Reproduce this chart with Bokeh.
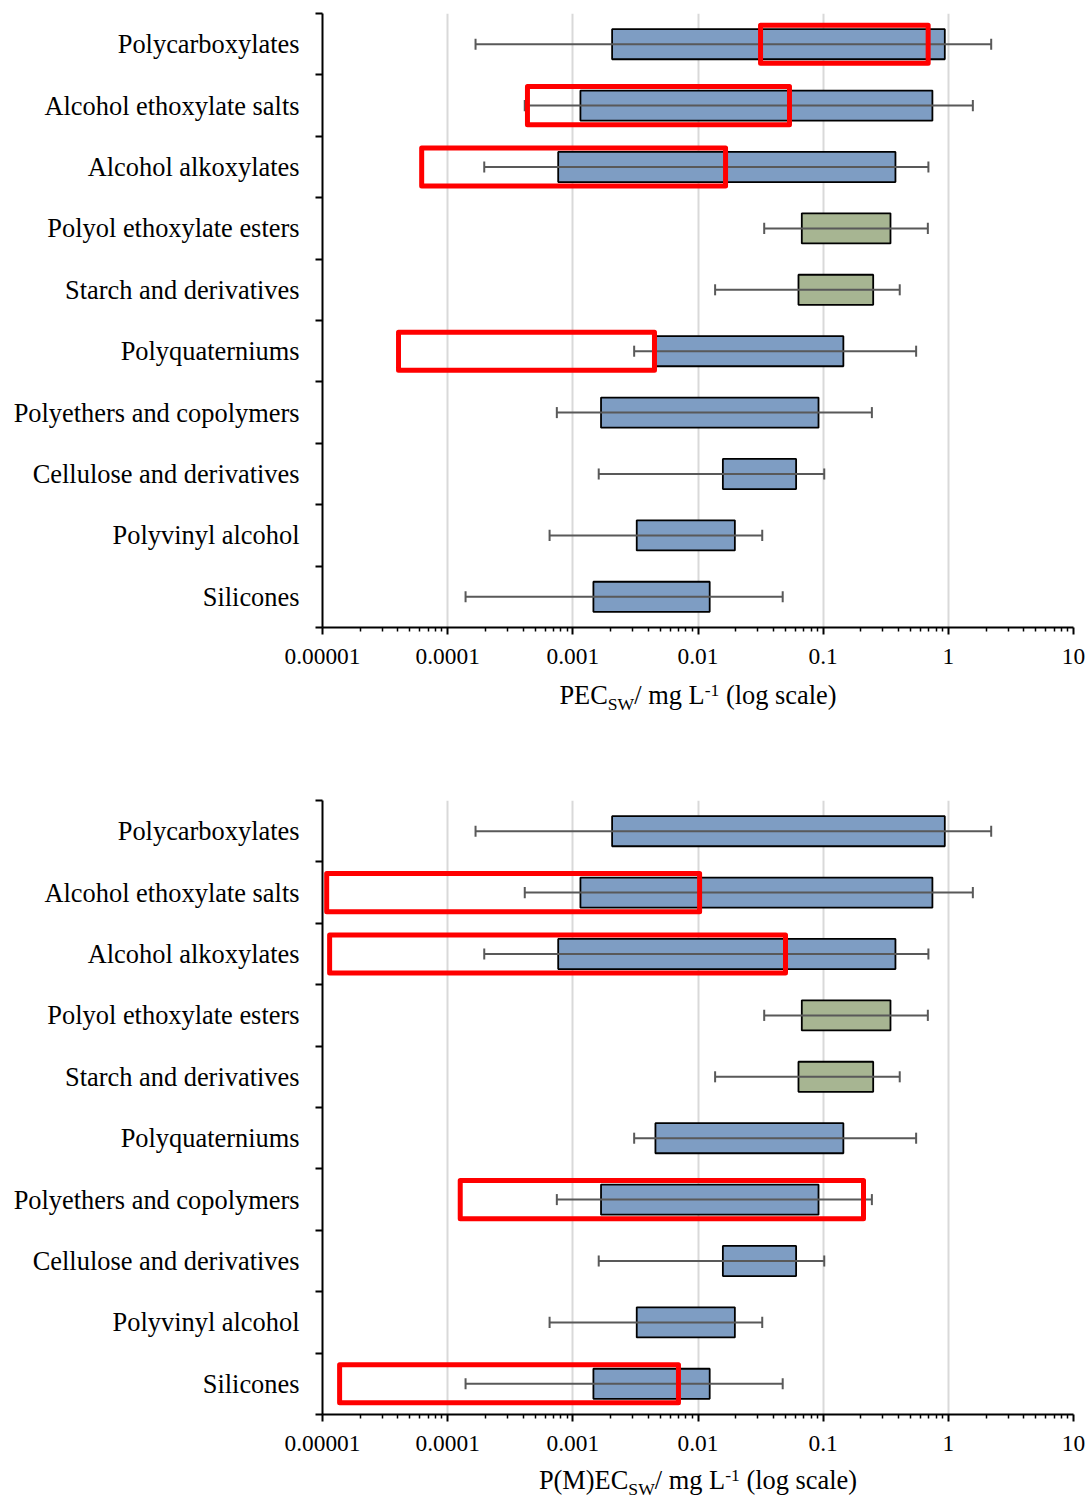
from bokeh.plotting import figure
from bokeh.models import FixedTicker, Range1d, ColumnDataSource
from bokeh.layouts import column
from bokeh.embed import file_html
from bokeh.resources import INLINE
from bokeh.core.properties import value

# ---------------- data ----------------
categories = ["Polycarboxylates", "Alcohol ethoxylate salts", "Alcohol alkoxylates",
              "Polyol ethoxylate esters", "Starch and derivatives", "Polyquaterniums",
              "Polyethers and copolymers", "Cellulose and derivatives", "Polyvinyl alcohol",
              "Silicones"]
bar_low = [0.00206, 0.00115, 0.000764, 0.0675, 0.0635, 0.00457, 0.00168, 0.0158, 0.00324, 0.00146]
bar_high = [0.937, 0.746, 0.378, 0.345, 0.251, 0.145, 0.0918, 0.0608, 0.0197, 0.0124]
whisker_low = [0.000167, 0.000413, 0.000196, 0.0338, 0.0137, 0.00309, 0.000745, 0.00161, 0.000652, 0.000139]
whisker_high = [2.2, 1.57, 0.693, 0.686, 0.409, 0.553, 0.245, 0.102, 0.0326, 0.0475]
bar_group = ["blue", "blue", "blue", "green", "green", "blue", "blue", "blue", "blue", "blue"]

top_box_cats = ["Polycarboxylates", "Alcohol ethoxylate salts", "Alcohol alkoxylates", "Polyquaterniums"]
top_box_low = [0.0316, 0.000434, 0.000062, 0.0000405]
top_box_high = [0.69, 0.0538, 0.0166, 0.00449]

bottom_box_cats = ["Alcohol ethoxylate salts", "Alcohol alkoxylates", "Polyethers and copolymers", "Silicones"]
bottom_box_low = [0.0000108, 0.0000114, 0.000126, 0.0000137]
bottom_box_high = [0.0103, 0.05, 0.21, 0.00698]

x_tick_values = [0.00001, 0.0001, 0.001, 0.01, 0.1, 1, 10]
x_tick_labels = ["0.00001", "0.0001", "0.001", "0.01", "0.1", "1", "10"]

top_title = [("PEC", "main"), ("SW", "sub"), ("/ mg L", "main"), ("-1", "sup"), (" (log scale)", "main")]
bottom_title = [("P(M)EC", "main"), ("SW", "sub"), ("/ mg L", "main"), ("-1", "sup"), (" (log scale)", "main")]

# ---------------- styling ----------------
FONT = "Liberation Serif"
COLORS = {"blue": "#7E9DC3", "green": "#A7B592"}
MAIN_SIZE, SMALL_SIZE = 26.4, 17.6
# Times/Liberation Serif advance widths (per 1000 em) for layout of the composite title
ADV = {"P": 556, "E": 611, "C": 667, "S": 556, "W": 944, "M": 889, "(": 333, ")": 333,
       "/": 278, " ": 250, "m": 778, "g": 500, "L": 611, "-": 333, "1": 500, "l": 278,
       "o": 500, "s": 389, "c": 444, "a": 444, "e": 444}
LEFT, FRAME_W, RIGHT = 322, 751, 16
n = len(categories)
row_of = {c: (n - 0.5 - i) for i, c in enumerate(categories)}


def make_panel(box_cats, box_low, box_high, top_border, bottom_border, x_range):
    p = figure(x_axis_type="log", x_range=x_range, y_range=Range1d(0, n),
               frame_width=FRAME_W, frame_height=614,
               min_border_left=LEFT, min_border_right=RIGHT,
               min_border_top=top_border, min_border_bottom=bottom_border,
               toolbar_location=None, output_backend="svg")
    p.outline_line_color = None
    p.background_fill_color = "white"
    p.border_fill_color = "white"

    minor_x = [m * d for d in x_tick_values[:-1] for m in range(2, 10)]
    p.xaxis.ticker = FixedTicker(ticks=x_tick_values, minor_ticks=minor_x)
    p.xaxis.major_label_overrides = dict(zip(x_tick_values, x_tick_labels))
    p.xaxis.axis_line_width = 2
    p.xaxis.axis_line_color = "black"
    p.xaxis.major_tick_out = 7
    p.xaxis.major_tick_in = 0
    p.xaxis.minor_tick_out = 4
    p.xaxis.minor_tick_in = 0
    p.xaxis.major_tick_line_width = 2
    p.xaxis.minor_tick_line_width = 1.5
    p.xaxis.major_tick_line_color = "black"
    p.xaxis.minor_tick_line_color = "black"
    p.xaxis.major_label_standoff = 14
    p.xaxis.major_label_text_font = FONT
    p.xaxis.major_label_text_font_size = "23.4px"
    p.xaxis.major_label_text_color = "black"

    yt = [row_of[c] for c in categories]
    p.yaxis.ticker = FixedTicker(ticks=yt, minor_ticks=list(range(n + 1)))
    p.yaxis.major_label_overrides = {row_of[c]: c for c in categories}
    p.yaxis.axis_line_width = 2
    p.yaxis.axis_line_color = "black"
    p.yaxis.major_tick_out = 0
    p.yaxis.major_tick_in = 0
    p.yaxis.minor_tick_out = 7
    p.yaxis.minor_tick_in = 0
    p.yaxis.minor_tick_line_width = 2
    p.yaxis.minor_tick_line_color = "black"
    p.yaxis.major_label_standoff = 16
    p.yaxis.major_label_text_font = FONT
    p.yaxis.major_label_text_font_size = "26.4px"
    p.yaxis.major_label_text_color = "black"

    p.xgrid.ticker = FixedTicker(ticks=x_tick_values[1:])
    p.xgrid.grid_line_color = "#D9D9D9"
    p.xgrid.grid_line_width = 2
    p.ygrid.grid_line_color = None

    ys = [row_of[c] for c in categories]
    src = ColumnDataSource(dict(
        y=ys, lo=bar_low, hi=bar_high, wlo=whisker_low, whi=whisker_high,
        color=[COLORS[g] for g in bar_group],
        cap0=[y - 0.09 for y in ys], cap1=[y + 0.09 for y in ys]))
    p.hbar(y="y", left="lo", right="hi", height=0.49, fill_color="color",
           line_color="black", line_width=1.8, source=src)
    p.segment(x0="wlo", y0="y", x1="whi", y1="y", line_color="#595959", line_width=2, source=src)
    p.segment(x0="wlo", y0="cap0", x1="wlo", y1="cap1", line_color="#595959", line_width=2, source=src)
    p.segment(x0="whi", y0="cap0", x1="whi", y1="cap1", line_color="#595959", line_width=2, source=src)

    by = [row_of[c] for c in box_cats]
    bsrc = ColumnDataSource(dict(left=box_low, right=box_high,
                                 bottom=[y - 0.31 for y in by], top=[y + 0.31 for y in by]))
    p.quad(left="left", right="right", bottom="bottom", top="top", fill_color=None,
           line_color="#FF0000", line_width=5, line_join="round", source=bsrc)
    return p


def make_title(parts, height, mid_y, x_range):
    t = figure(x_axis_type="log", x_range=x_range, y_range=Range1d(0, height),
               frame_width=FRAME_W, frame_height=height,
               min_border_left=LEFT, min_border_right=RIGHT,
               min_border_top=0, min_border_bottom=0,
               toolbar_location=None, output_backend="svg")
    t.axis.visible = False
    t.grid.visible = False
    t.outline_line_color = None
    t.background_fill_color = "white"
    t.border_fill_color = "white"

    widths = []
    for text, kind in parts:
        fs = MAIN_SIZE if kind == "main" else SMALL_SIZE
        widths.append(sum(ADV[ch] for ch in text) / 1000.0 * fs)
    off = -sum(widths) / 2.0
    xs, ys, txt, offs, sizes = [], [], [], [], []
    for (text, kind), w in zip(parts, widths):
        fs = MAIN_SIZE if kind == "main" else SMALL_SIZE
        lead = len(text) - len(text.lstrip(" "))
        dy = {"main": 0, "sub": -9, "sup": 4}[kind]
        xs.append(0.01)
        ys.append(mid_y + dy)
        txt.append(text.lstrip(" "))
        offs.append(off + lead * ADV[" "] / 1000.0 * fs)
        sizes.append(f"{fs}px")
        off += w
    src = ColumnDataSource(dict(x=xs, y=ys, text=txt, xo=offs, fs=sizes))
    t.text(x="x", y="y", text="text", x_offset="xo", text_font_size="fs",
           text_font=value(FONT), text_color="black", text_align="left",
           text_baseline="middle", source=src)
    return t


xr1 = Range1d(1e-5, 10)
xr2 = Range1d(1e-5, 10)
p1 = make_panel(top_box_cats, top_box_low, top_box_high, 13, 50, xr1)
t1 = make_title(top_title, 70, 53, xr1)
p2 = make_panel(bottom_box_cats, bottom_box_low, bottom_box_high, 53, 50, xr2)
t2 = make_title(bottom_title, 35, 20, xr2)

layout = column(p1, t1, p2, t2, spacing=0)
open("out.html", "w").write(file_html(layout, INLINE))
